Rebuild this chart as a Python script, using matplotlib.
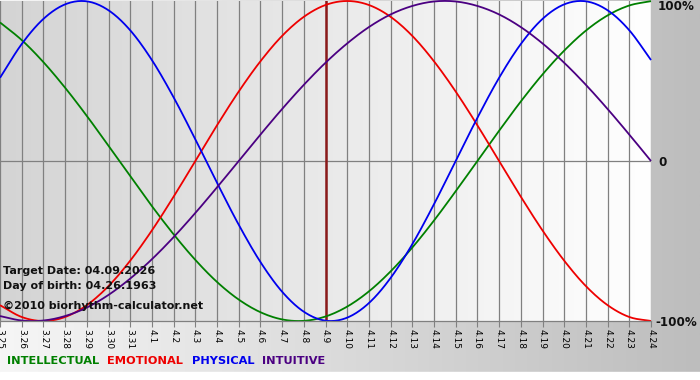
import numpy as np
import matplotlib
matplotlib.use("Agg")
import matplotlib.pyplot as plt
from matplotlib.colors import LinearSegmentedColormap

days = ["3.25", "3.26", "3.27", "3.28", "3.29", "3.30", "3.31",
        "4.1", "4.2", "4.3", "4.4", "4.5", "4.6", "4.7", "4.8", "4.9",
        "4.10", "4.11", "4.12", "4.13", "4.14", "4.15", "4.16", "4.17",
        "4.18", "4.19", "4.20", "4.21", "4.22", "4.23", "4.24"]

physical = [0.520, 0.731, 0.888, 0.979, 0.998, 0.942, 0.817, 0.631, 0.398, 0.136,
            -0.136, -0.398, -0.631, -0.817, -0.942, -0.998, -0.979, -0.888, -0.731,
            -0.520, -0.270, 0.0, 0.270, 0.520, 0.731, 0.888, 0.979, 0.998, 0.942,
            0.817, 0.631]
emotional = [-0.901, -0.975, -1.0, -0.975, -0.901, -0.782, -0.623, -0.434, -0.223,
             0.0, 0.223, 0.434, 0.623, 0.782, 0.901, 0.975, 1.0, 0.975, 0.901, 0.782,
             0.623, 0.434, 0.223, 0.0, -0.223, -0.434, -0.623, -0.782, -0.901,
             -0.975, -1.0]
intellectual = [0.866, 0.756, 0.618, 0.458, 0.282, 0.095, -0.095, -0.282, -0.458,
                -0.618, -0.756, -0.866, -0.945, -0.990, -0.999, -0.972, -0.910,
                -0.815, -0.690, -0.541, -0.372, -0.189, 0.0, 0.189, 0.372, 0.541,
                0.690, 0.815, 0.910, 0.972, 0.999]
intuitive = [-0.969, -0.997, -0.997, -0.969, -0.916, -0.837, -0.735, -0.614, -0.476,
             -0.325, -0.165, 0.0, 0.165, 0.325, 0.476, 0.614, 0.735, 0.837, 0.916,
             0.969, 0.997, 0.997, 0.969, 0.916, 0.837, 0.735, 0.614, 0.476, 0.325,
             0.165, 0.0]

target_label = "4.9"
series = [("INTELLECTUAL", intellectual, "#008000"),
          ("EMOTIONAL", emotional, "#ee0000"),
          ("PHYSICAL", physical, "#0000ee"),
          ("INTUITIVE", intuitive, "#4b0082")]
info_lines = ["Target Date: 04.09.2026", "Day of birth: 04.26.1963",
              "\u00a92010 biorhythm-calculator.net"]
y_labels = [(1.0, "100%"), (0.0, "0"), (-1.0, "-100%")]


def catmull_rom(xs, ys, n=12):
    """Smooth curve drawn through the given points (rendering only)."""
    xs = np.asarray(xs, float)
    ys = np.asarray(ys, float)
    px = np.concatenate([[2 * xs[0] - xs[1]], xs, [2 * xs[-1] - xs[-2]]])
    py = np.concatenate([[2 * ys[0] - ys[1]], ys, [2 * ys[-1] - ys[-2]]])
    outx, outy = [], []
    t = np.linspace(0, 1, n, endpoint=False)
    for i in range(1, len(px) - 2):
        for arr, out in ((px, outx), (py, outy)):
            p0, p1, p2, p3 = arr[i - 1], arr[i], arr[i + 1], arr[i + 2]
            out.extend(0.5 * ((2 * p1) + (-p0 + p2) * t
                              + (2 * p0 - 5 * p1 + 4 * p2 - p3) * t ** 2
                              + (-p0 + 3 * p1 - 3 * p2 + p3) * t ** 3))
    outx.append(xs[-1]); outy.append(ys[-1])
    return np.array(outx), np.array(outy)


W, H = 700, 380
fig = plt.figure(figsize=(W / 100, H / 100), dpi=100)

# figure background: horizontal gradient light -> gray
bg = fig.add_axes([0, 0, 1, 1], zorder=-10)
grad = np.linspace(0, 1, 256)[None, :]
cm_bg = LinearSegmentedColormap.from_list("bg", ["#f6f6f6", "#bdbdbd"])
bg.imshow(grad, aspect="auto", cmap=cm_bg, extent=[0, 1, 0, 1])
bg.add_patch(plt.Rectangle((0, 0), 1, 8 / H, color="white", zorder=5))
bg.set_xlim(0, 1); bg.set_ylim(0, 1)
bg.axis("off")

ax_w = 651 / W
ax_bottom = (H - 321) / H
ax_h = 320 / H
ax = fig.add_axes([0.0, ax_bottom, ax_w, ax_h])
x = np.arange(len(days))
ax.set_xlim(0, len(days) - 1)
ax.set_ylim(-1, 1)

cm_pl = LinearSegmentedColormap.from_list("pl", ["#d4d4d4", "#ffffff"])
ax.imshow(grad, aspect="auto", cmap=cm_pl, extent=[0, len(days) - 1, -1, 1], zorder=0)

for xi in x:
    ax.axvline(xi, color="#808080", lw=0.9, zorder=1)
ax.axhline(0, color="#808080", lw=0.9, zorder=1)
ti = days.index(target_label)
ax.axvline(ti, color="#8b1a1a", lw=1.8, zorder=2)

for name, vals, col in series:
    sx, sy = catmull_rom(x, vals)
    ax.plot(sx, sy, color=col, lw=1.3, zorder=3, clip_on=False, solid_capstyle="butt")

for s in ax.spines.values():
    s.set_visible(False)
ax.set_xticks(x)
ax.set_xticklabels(days, rotation=-90, fontsize=6.5, family="DejaVu Sans")
ax.tick_params(axis="x", direction="out", length=4, color="#808080", pad=2)
ax.set_yticks([])
ax.axhline(-1, color="#808080", lw=0.9, zorder=4, clip_on=False)

label_pos = {"100%": (658, 7), "0": (658, 162), "-100%": (655, 322)}
for val, lab in y_labels:
    xp, yp = label_pos[lab]
    fig.text(xp / W, 1 - yp / H, lab, ha="left", va="center", fontsize=8.6,
             fontweight="bold", color="#111111")

for i, t in enumerate(info_lines):
    ypix = [271, 286, 306][i]
    fig.text(3 / W, 1 - ypix / H, t, ha="left", va="center", fontsize=8,
             fontweight="bold", color="#111111")

xpos = [7, 107, 192, 262]
for (name, vals, col), xp in zip(series, xpos):
    fig.text(xp / W, 1 - 361 / H, name, ha="left", va="center", fontsize=8.2,
             fontweight="bold", color=col)

fig.savefig("out.png", dpi=100)
